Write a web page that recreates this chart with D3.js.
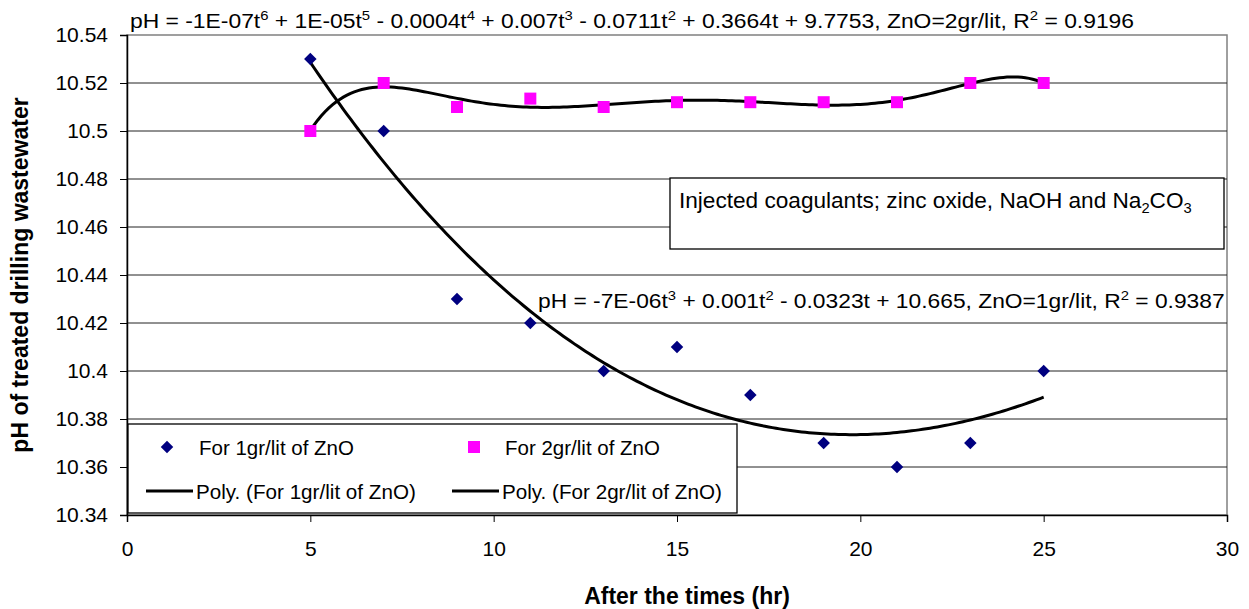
<!DOCTYPE html>
<html>
<head>
<meta charset="utf-8">
<script src="https://cdnjs.cloudflare.com/ajax/libs/d3/7.8.5/d3.min.js"></script>
<style>
  body { margin: 0; background: #fff; }
  svg { display: block; font-family: "Liberation Sans", Arial, sans-serif; }
</style>
</head>
<body>
<div id="chart"></div>
<script>
const times = [5, 7, 9, 11, 13, 15, 17, 19, 21, 23, 25];
const ph1gr = [10.53, 10.50, 10.43, 10.42, 10.40, 10.41, 10.39, 10.37, 10.36, 10.37, 10.40];
const ph2gr = [10.50, 10.52, 10.51, 10.5135, 10.51, 10.512, 10.512, 10.512, 10.512, 10.52, 10.52];
const xTicks = [0, 5, 10, 15, 20, 25, 30];
const yTicks = [10.34, 10.36, 10.38, 10.40, 10.42, 10.44, 10.46, 10.48, 10.50, 10.52, 10.54];
const seriesNames = ["For 1gr/lit of ZnO", "For 2gr/lit of ZnO"];
const trendNames = ["Poly. (For 1gr/lit of ZnO)", "Poly. (For 2gr/lit of ZnO)"];
const eq2gr = "pH = -1E-07t^6 + 1E-05t^5 - 0.0004t^4 + 0.007t^3 - 0.0711t^2 + 0.3664t + 9.7753, ZnO=2gr/lit, R^2 = 0.9196";
const eq1gr = "pH = -7E-06t^3 + 0.001t^2 - 0.0323t + 10.665, ZnO=1gr/lit, R^2 = 0.9387";
const noteText = "Injected coagulants; zinc oxide, NaOH and Na_2CO_3";

const W = 1249, H = 609;
const svg = d3.select("#chart").append("svg").attr("width", W).attr("height", H);

const x = d3.scaleLinear().domain([0, 30]).range([127, 1227]);
const y = d3.scaleLinear().domain([10.34, 10.54]).range([515, 35]);

// least squares polynomial (same thing excel does for its trendline)
function polyfit(xs, ys, deg) {
  const n = deg + 1;
  const u = xs.map(v => (v - 15) / 10);
  const A = [];
  for (let i = 0; i < n; i++) {
    A.push([]);
    for (let j = 0; j < n; j++) A[i].push(d3.sum(u, v => Math.pow(v, i + j)));
    A[i].push(d3.sum(u, (v, k) => ys[k] * Math.pow(v, i)));
  }
  for (let c = 0; c < n; c++) {
    let p = c;
    for (let r = c + 1; r < n; r++) if (Math.abs(A[r][c]) > Math.abs(A[p][c])) p = r;
    [A[c], A[p]] = [A[p], A[c]];
    for (let r = 0; r < n; r++) {
      if (r === c) continue;
      const f = A[r][c] / A[c][c];
      for (let k = c; k <= n; k++) A[r][k] -= f * A[c][k];
    }
  }
  const coef = A.map((row, i) => row[n] / row[i]);
  return t => d3.sum(coef, (a, i) => a * Math.pow((t - 15) / 10, i));
}

// text with ^n superscripts and _n subscripts
function richText(parent, str, px, py, size, width) {
  const t = parent.append("text").attr("x", px).attr("y", py)
    .attr("font-size", size).attr("fill", "#000");
  const parts = str.split(/([\^_]\d)/);
  let shift = 0;
  parts.forEach(p => {
    if (!p) return;
    if (p[0] === "^" || p[0] === "_") {
      const d = p[0] === "^" ? -size * 0.4 : size * 0.25;
      t.append("tspan").attr("dy", d - shift).attr("font-size", size * 0.65).text(p[1]);
      shift = d;
    } else {
      t.append("tspan").attr("dy", -shift).text(p);
      shift = 0;
    }
  });
  if (width) {
    const w = t.node().getComputedTextLength();
    t.attr("transform", `translate(${px},0) scale(${width / w},1) translate(${-px},0)`);
  }
  return t;
}

// plot frame + grid
svg.append("rect").attr("x", 127).attr("y", 35).attr("width", 1100).attr("height", 480)
  .attr("fill", "#fff").attr("stroke", "#808080").attr("stroke-width", 1.5);
svg.append("g").selectAll("line").data(yTicks.slice(1, -1)).enter().append("line")
  .attr("x1", 127).attr("x2", 1227).attr("y1", d => y(d)).attr("y2", d => y(d))
  .attr("stroke", "#222").attr("stroke-width", 1);

// axes
const yAxis = svg.append("g").attr("transform", "translate(127,0)")
  .call(d3.axisLeft(y).tickValues(yTicks).tickFormat(d => String(+d.toFixed(2))).tickSize(7).tickPadding(12));
const xAxis = svg.append("g").attr("transform", "translate(0,515)")
  .call(d3.axisBottom(x).tickValues(xTicks).tickSize(7).tickPadding(19));
[yAxis, xAxis].forEach(a => {
  a.select(".domain").attr("stroke", "#000").attr("stroke-width", 1.5);
  a.selectAll(".tick line").attr("stroke", "#000");
  a.selectAll("text").attr("font-size", 21).attr("fill", "#000")
    .attr("font-family", "'Liberation Sans', Arial, sans-serif");
});

// trend lines
const fits = [polyfit(times, ph1gr, 3), polyfit(times, ph2gr, 6)];
const ts = d3.range(5, 25.001, 0.1);
const line = d3.line().x(d => x(d[0])).y(d => y(d[1]));
fits.forEach(f => {
  svg.append("path").attr("d", line(ts.map(t => [t, f(t)])))
    .attr("fill", "none").attr("stroke", "#000").attr("stroke-width", 3);
});

// markers
const diamond = d3.symbol().type(d3.symbolDiamond2).size(100);
svg.append("g").selectAll("path").data(times).enter().append("path")
  .attr("d", diamond).attr("transform", (d, i) => `translate(${x(d)},${y(ph1gr[i])})`)
  .attr("fill", "#000080");
svg.append("g").selectAll("rect").data(times).enter().append("rect")
  .attr("x", d => x(d) - 6).attr("y", (d, i) => y(ph2gr[i]) - 6)
  .attr("width", 12).attr("height", 12).attr("fill", "#ff00ff");

// equations
richText(svg, eq2gr, 130, 28, 21, 1005);
richText(svg, eq1gr, 538, 308, 21, 687);

// note box
svg.append("rect").attr("x", 670).attr("y", 178).attr("width", 554).attr("height", 71)
  .attr("fill", "#fff").attr("stroke", "#000").attr("stroke-width", 1.3);
richText(svg, noteText, 679, 208, 22, 513);

// legend
const lg = svg.append("g");
lg.append("rect").attr("x", 128).attr("y", 424).attr("width", 609).attr("height", 89)
  .attr("fill", "#fff").attr("stroke", "#000").attr("stroke-width", 1.3);
const markX = [167, 474], textX = [199, 505], lineX = [146, 452];
lg.append("path").attr("d", diamond).attr("transform", `translate(${markX[0]},447)`).attr("fill", "#000080");
lg.append("rect").attr("x", markX[1] - 6).attr("y", 441).attr("width", 12).attr("height", 12).attr("fill", "#ff00ff");
seriesNames.forEach((s, i) => {
  richText(lg, s, textX[i], 455, 21, 155);
});
trendNames.forEach((s, i) => {
  lg.append("line").attr("x1", lineX[i]).attr("x2", lineX[i] + 47).attr("y1", 491).attr("y2", 491)
    .attr("stroke", "#000").attr("stroke-width", 3);
  richText(lg, s, lineX[i] + 50, 499, 21, 220);
});

// axis titles
svg.append("text").attr("x", 687).attr("y", 604).attr("text-anchor", "middle")
  .attr("font-size", 23).attr("font-weight", "bold").text("After the times (hr)");
svg.append("text").attr("transform", "translate(28,275) rotate(-90)").attr("text-anchor", "middle")
  .attr("font-size", 23).attr("font-weight", "bold").text("pH of treated drilling wastewater");
</script>
</body>
</html>
